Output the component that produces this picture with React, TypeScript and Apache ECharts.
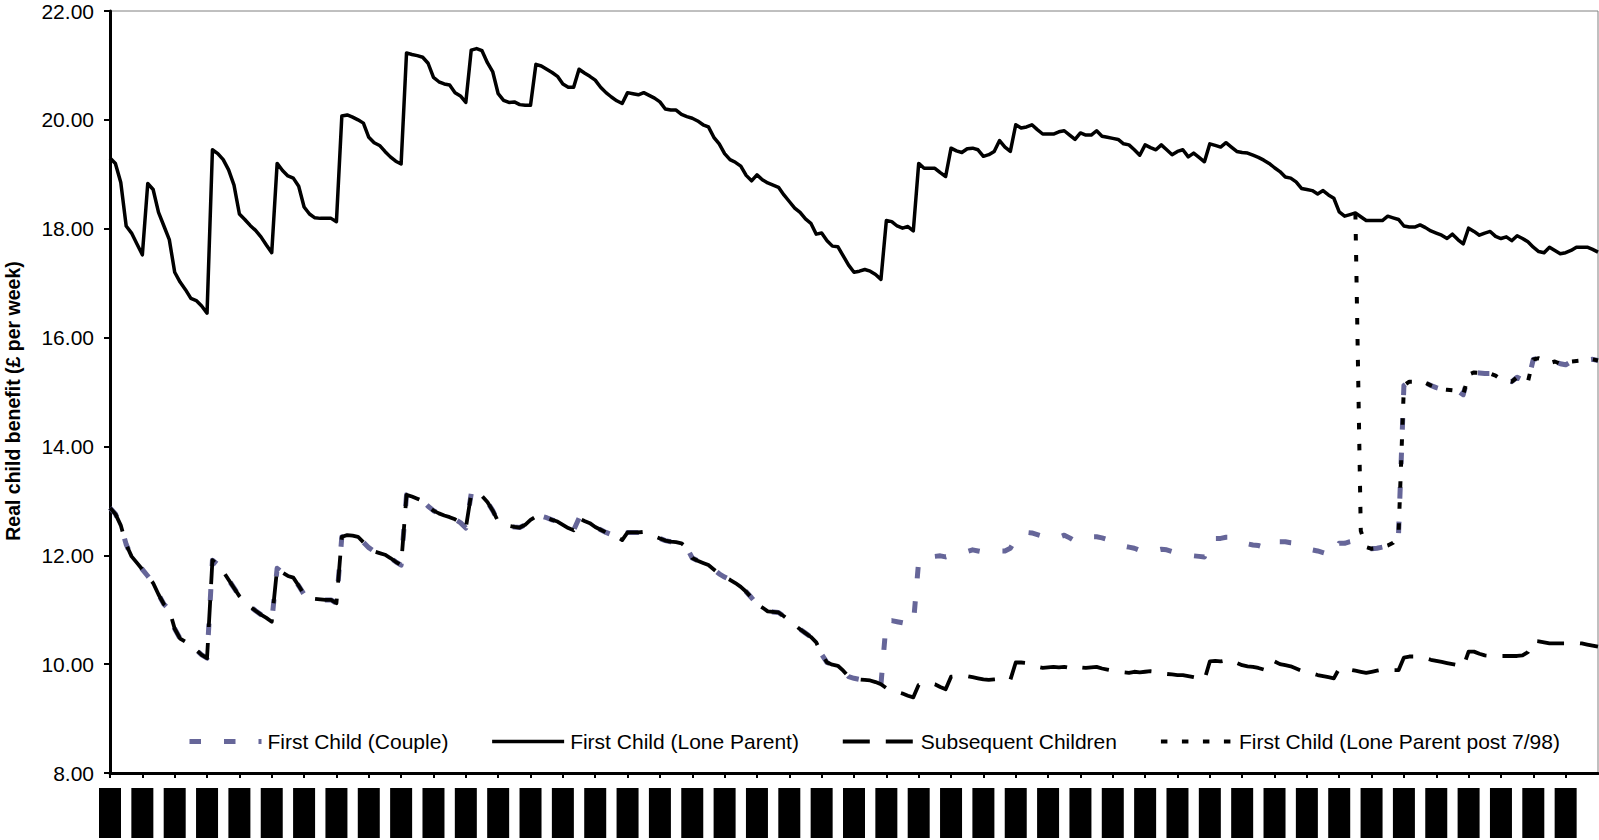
import React, { useEffect, useRef } from "react";
import * as echarts from "echarts";

// ---- categories: monthly, April 1979 .. April 2002 ----
const MONTH_NAMES = ["Jan", "Feb", "Mar", "Apr", "May", "Jun", "Jul", "Aug", "Sep", "Oct", "Nov", "Dec"];
const START_YEAR = 1979;
const START_MONTH = 3; // April
const N_MONTHS = 277;
const CATEGORIES: string[] = [];
for (let i = 0; i < N_MONTHS; i++) {
  const m = (START_MONTH + i) % 12;
  const y = START_YEAR + Math.floor((START_MONTH + i) / 12);
  CATEGORIES.push(MONTH_NAMES[m] + "-" + String(y % 100).padStart(2, "0"));
}

// ---- y axis ----
const Y_MIN = 8;
const Y_MAX = 22;
const Y_STEP = 2;

// ---- series values (each row: 12 months starting in April) ----
const LONE_PARENT = [
  19.30, 19.20, 18.85, 18.05, 17.92, 17.72, 17.52, 18.83, 18.72, 18.30, 18.05, 17.80,
  17.20, 17.02, 16.88, 16.72, 16.68, 16.58, 16.45, 19.45, 19.38, 19.27, 19.08, 18.80,
  18.27, 18.17, 18.06, 17.97, 17.85, 17.70, 17.56, 19.20, 19.07, 18.97, 18.93, 18.78,
  18.40, 18.27, 18.20, 18.19, 18.19, 18.19, 18.13, 20.07, 20.09, 20.05, 20.00, 19.94,
  19.68, 19.58, 19.53, 19.42, 19.32, 19.24, 19.19, 21.23, 21.20, 21.18, 21.15, 21.04,
  20.78, 20.70, 20.66, 20.64, 20.50, 20.44, 20.32, 21.28, 21.31, 21.27, 21.05, 20.88,
  20.48, 20.36, 20.32, 20.33, 20.28, 20.27, 20.27, 21.02, 20.99, 20.93, 20.87, 20.80,
  20.66, 20.60, 20.60, 20.93, 20.86, 20.80, 20.73, 20.60, 20.50, 20.42, 20.35, 20.30,
  20.50, 20.48, 20.46, 20.50, 20.45, 20.40, 20.33, 20.20, 20.18, 20.18, 20.10, 20.06,
  20.03, 19.98, 19.91, 19.87, 19.68, 19.56, 19.38, 19.27, 19.22, 19.15, 18.98, 18.88,
  18.99, 18.90, 18.84, 18.80, 18.76, 18.62, 18.50, 18.38, 18.30, 18.18, 18.10, 17.90,
  17.92, 17.78, 17.68, 17.67, 17.50, 17.33, 17.20, 17.22, 17.25, 17.22, 17.16, 17.07,
  18.15, 18.13, 18.05, 18.01, 18.04, 17.96, 19.20, 19.11, 19.11, 19.11, 19.03, 18.96,
  19.48, 19.43, 19.40, 19.47, 19.48, 19.45, 19.33, 19.36, 19.42, 19.62, 19.50, 19.42,
  19.91, 19.85, 19.87, 19.91, 19.82, 19.74, 19.74, 19.74, 19.78, 19.80, 19.72, 19.64,
  19.76, 19.72, 19.72, 19.80, 19.70, 19.68, 19.66, 19.64, 19.56, 19.54, 19.45, 19.35,
  19.54, 19.49, 19.45, 19.54, 19.45, 19.36, 19.42, 19.45, 19.32, 19.39, 19.31, 19.23,
  19.56, 19.53, 19.50, 19.58, 19.50, 19.42, 19.40, 19.39, 19.35, 19.31, 19.26, 19.20,
  19.12, 19.05, 18.95, 18.93, 18.86, 18.74, 18.72, 18.70, 18.64, 18.70, 18.62, 18.56,
  18.31, 18.23, 18.26, 18.29, 18.22, 18.15, 18.15, 18.15, 18.15, 18.23, 18.20, 18.17,
  18.05, 18.03, 18.03, 18.07, 18.02, 17.96, 17.92, 17.88, 17.82, 17.90, 17.80, 17.72,
  18.01, 17.95, 17.88, 17.92, 17.95, 17.86, 17.82, 17.85, 17.78, 17.87, 17.82, 17.76,
  17.66, 17.58, 17.56, 17.66, 17.60, 17.54, 17.56, 17.60, 17.66, 17.66, 17.66, 17.62,
  17.57,
];

const SUBSEQUENT = [
  12.87, 12.76, 12.55, 12.20, 11.98, 11.86, 11.74, 11.62, 11.49, 11.28, 11.10, 11.00,
  10.65, 10.47, 10.41, 10.33, 10.26, 10.17, 10.11, 11.91, 11.83, 11.70, 11.55, 11.40,
  11.25, 11.15, 11.06, 10.98, 10.91, 10.85, 10.78, 11.76, 11.68, 11.62, 11.59, 11.44,
  11.28, 11.22, 11.20, 11.19, 11.18, 11.18, 11.12, 12.34, 12.37, 12.36, 12.34, 12.24,
  12.14, 12.07, 12.04, 12.01, 11.95, 11.88, 11.82, 13.11, 13.08, 13.04, 13.00, 12.90,
  12.82, 12.77, 12.73, 12.70, 12.66, 12.60, 12.50, 13.13, 13.13, 13.09, 12.98, 12.82,
  12.62, 12.57, 12.54, 12.52, 12.51, 12.56, 12.65, 12.71, 12.72, 12.69, 12.65, 12.62,
  12.56, 12.50, 12.46, 12.68, 12.63, 12.59, 12.52, 12.47, 12.42, 12.38, 12.34, 12.28,
  12.42, 12.42, 12.42, 12.43, 12.40, 12.35, 12.31, 12.27, 12.25, 12.24, 12.22, 12.14,
  11.95, 11.90, 11.86, 11.82, 11.74, 11.66, 11.60, 11.55, 11.49, 11.42, 11.33, 11.22,
  11.10, 11.04, 10.97, 10.96, 10.95, 10.88, 10.80, 10.72, 10.64, 10.57, 10.50, 10.40,
  10.18, 10.03, 9.99, 9.97, 9.88, 9.77, 9.74, 9.72, 9.71, 9.70, 9.67, 9.63,
  9.56, 9.52, 9.49, 9.46, 9.42, 9.39, 9.62, 9.64, 9.65, 9.63, 9.58, 9.54,
  9.77, 9.78, 9.77, 9.78, 9.76, 9.74, 9.72, 9.71, 9.72, 9.73, 9.72, 9.71,
  10.03, 10.03, 10.02, 9.98, 9.95, 9.93, 9.94, 9.95, 9.94, 9.95, 9.93, 9.90,
  9.94, 9.93, 9.94, 9.95, 9.92, 9.90, 9.88, 9.86, 9.85, 9.84, 9.86, 9.85,
  9.86, 9.87, 9.86, 9.83, 9.82, 9.81, 9.80, 9.80, 9.78, 9.76, 9.74, 9.71,
  10.05, 10.06, 10.05, 10.07, 10.08, 10.02, 9.98, 9.96, 9.95, 9.93, 9.90, 9.89,
  10.05, 10.00, 9.98, 9.96, 9.92, 9.88, 9.85, 9.83, 9.80, 9.78, 9.76, 9.74,
  9.92, 9.92, 9.90, 9.88, 9.86, 9.84, 9.86, 9.88, 9.90, 9.90, 9.89, 9.89,
  10.12, 10.14, 10.14, 10.14, 10.11, 10.08, 10.06, 10.04, 10.02, 10.00, 9.98, 9.95,
  10.23, 10.23, 10.19, 10.16, 10.15, 10.15, 10.15, 10.15, 10.15, 10.15, 10.16, 10.22,
  10.43, 10.42, 10.40, 10.38, 10.38, 10.38, 10.38, 10.39, 10.39, 10.38, 10.36, 10.34,
  10.32,
];

// First child (couple): same as subsequent children until April 1991 (index 144)
const COUPLE_SPLIT = 144;
const COUPLE_FROM_APR91 = [
  10.80, 10.80, 10.78, 10.76, 10.74, 10.72, 11.90, 11.93, 11.96, 11.98, 11.99, 11.97,
  12.00, 12.02, 12.04, 12.07, 12.10, 12.08, 12.06, 12.05, 12.06, 12.08, 12.08, 12.13,
  12.30, 12.40, 12.42, 12.41, 12.38, 12.35, 12.33, 12.31, 12.33, 12.37, 12.32, 12.26,
  12.30, 12.33, 12.34, 12.34, 12.32, 12.29, 12.25, 12.20, 12.17, 12.15, 12.13, 12.09,
  12.12, 12.10, 12.09, 12.11, 12.10, 12.07, 12.04, 12.02, 12.00, 11.99, 11.98, 11.97,
  12.28, 12.31, 12.31, 12.33, 12.33, 12.27, 12.23, 12.21, 12.19, 12.18, 12.15, 12.13,
  12.25, 12.25, 12.25, 12.23, 12.22, 12.18, 12.13, 12.10, 12.08, 12.05, 12.02, 12.00,
  12.22, 12.22, 12.25, 12.27, 12.21, 12.15, 12.12, 12.13, 12.15, 12.18, 12.23, 12.38,
  15.12, 15.19, 15.19, 15.19, 15.17, 15.12, 15.08, 15.05, 15.04, 15.03, 15.02, 14.95,
  15.32, 15.36, 15.35, 15.34, 15.34, 15.30, 15.23, 15.21, 15.19, 15.27, 15.22, 15.19,
  15.60, 15.62, 15.58, 15.53, 15.56, 15.52, 15.50, 15.56, 15.57, 15.58, 15.59, 15.60,
  15.58,
];

// First child (lone parent post 7/98): starts July 1998 (index 231), then follows couple rate
const POST_START = 231;
const POST_HEAD = [18.29, 12.45];

const COUPLE = SUBSEQUENT.slice(0, COUPLE_SPLIT).concat(COUPLE_FROM_APR91);
const POST_798: (number | null)[] = CATEGORIES.map((_, i) => {
  if (i < POST_START) return null;
  const k = i - POST_START;
  if (k < POST_HEAD.length) return POST_HEAD[k];
  return COUPLE[i];
});

const FONT = "'Liberation Sans', Arial, Helvetica, sans-serif";

export default function App() {
  const ref = useRef<HTMLDivElement>(null);

  useEffect(() => {
    document.body.style.margin = "0";
    if (!ref.current) return;
    const chart = echarts.init(ref.current, undefined, { renderer: "svg" });
    chart.setOption({
      animation: false,
      backgroundColor: "#ffffff",
      textStyle: { fontFamily: FONT, color: "#000" },
      grid: {
        left: 110,
        right: 1,
        top: 11,
        bottom: 67,
        outerBoundsMode: "none",
        containLabel: false,
        show: true,
        borderColor: "#808080",
        borderWidth: 1,
      },
      legend: {
        left: 182,
        top: 726,
        itemWidth: 72,
        itemHeight: 14,
        itemGap: 42,
        textStyle: { fontSize: 21, color: "#000", fontFamily: FONT, padding: [0, 0, 0, 1] },
        lineStyle: { width: "inherit" },
        itemStyle: { opacity: 0 },
        data: [
          "First Child (Couple)",
          "First Child (Lone Parent)",
          "Subsequent Children",
          "First Child (Lone Parent post 7/98)",
        ],
      },
      xAxis: {
        type: "category",
        data: CATEGORIES,
        boundaryGap: false,
        axisLine: { lineStyle: { color: "#000", width: 3 } },
        axisTick: { interval: 5, length: 5, lineStyle: { color: "#000", width: 2 } },
        axisLabel: {
          interval: 5,
          rotate: 90,
          color: "#000",
          backgroundColor: "#000",
          fontSize: 14,
          lineHeight: 22,
          padding: [0, 4, 0, 4],
          margin: 15,
          showMaxLabel: false,
          fontFamily: FONT,
        },
        splitLine: { show: false },
      },
      yAxis: {
        type: "value",
        min: Y_MIN,
        max: Y_MAX,
        interval: Y_STEP,
        name: "Real child benefit (£ per week)",
        nameLocation: "middle",
        nameGap: 87,
        nameTextStyle: {
          fontSize: 19.5,
          fontWeight: "bold",
          color: "#000",
          fontFamily: FONT,
          padding: [0, 18, 0, 0],
        },
        axisLine: { show: true, lineStyle: { color: "#000", width: 3 } },
        axisTick: { show: true, length: 6, lineStyle: { color: "#000", width: 2 } },
        axisLabel: {
          formatter: (v: number) => v.toFixed(2),
          fontSize: 21,
          color: "#000",
          margin: 16,
          fontFamily: FONT,
        },
        splitLine: { show: false },
      },
      series: [
        {
          name: "First Child (Couple)",
          type: "line",
          data: COUPLE,
          symbol: "none",
          itemStyle: { color: "#666699" },
          lineStyle: { color: "#666699", width: 5, type: [11.5, 23], join: "round" },
          z: 2,
        },
        {
          name: "First Child (Lone Parent)",
          type: "line",
          data: LONE_PARENT,
          symbol: "none",
          itemStyle: { color: "#000" },
          lineStyle: { color: "#000", width: 3.5, type: "solid", join: "round" },
          z: 3,
        },
        {
          name: "Subsequent Children",
          type: "line",
          data: SUBSEQUENT,
          symbol: "none",
          itemStyle: { color: "#000" },
          lineStyle: { color: "#000", width: 3.8, type: [27, 16], join: "round" },
          z: 4,
        },
        {
          name: "First Child (Lone Parent post 7/98)",
          type: "line",
          data: POST_798,
          symbol: "none",
          connectNulls: false,
          itemStyle: { color: "#000" },
          lineStyle: { color: "#000", width: 4, type: [6.5, 14.5], join: "round" },
          z: 5,
        },
      ],
    });
    return () => chart.dispose();
  }, []);

  return <div ref={ref} style={{ width: 1599, height: 840 }} />;
}
